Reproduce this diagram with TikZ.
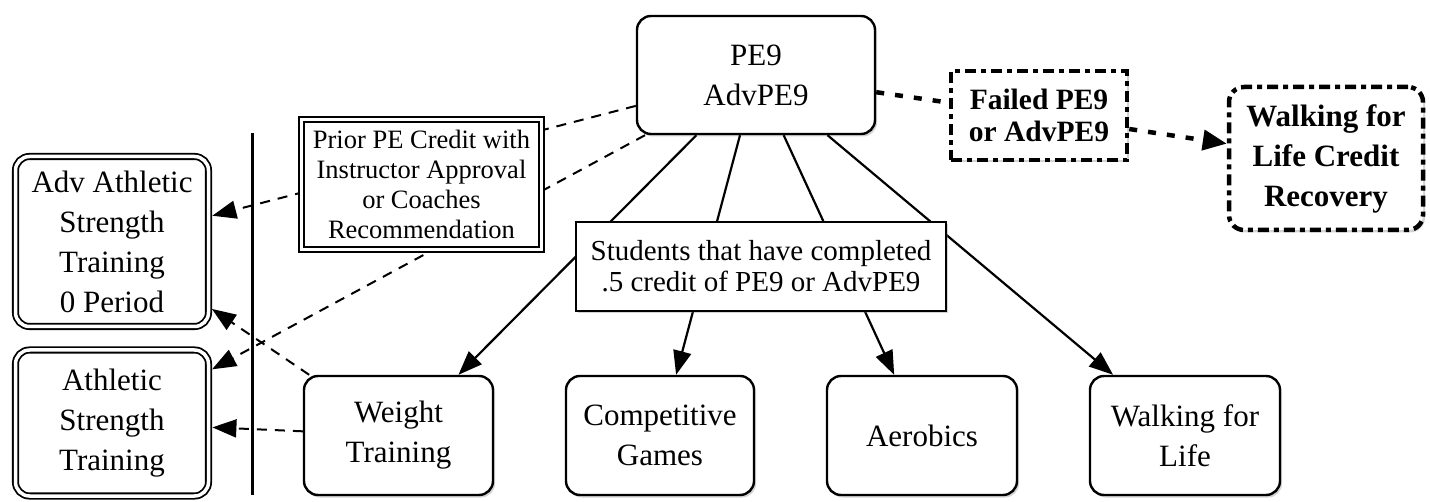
\documentclass[tikz,border=0pt]{standalone}
\usepackage{fontspec}
\setmainfont{Liberation Serif}
\usetikzlibrary{arrows.meta,shadows}
\begin{document}
\begin{tikzpicture}[x=1pt,y=-1pt,
  shd/.style={drop shadow={shadow xshift=2pt,shadow yshift=-2.5pt,opacity=.35}},
  mainfont/.style={font=\fontsize{31}{40}\selectfont},
  rbox/.style={draw,line width=2.4pt,rounded corners=14pt,fill=white,shd,align=center,mainfont,inner sep=0pt},
  dbox/.style={draw,line width=1.8pt,double,double distance=3.5pt,fill=white,shd,align=center,inner sep=0pt},
  sbox/.style={draw,line width=2.4pt,fill=white,shd,align=center,inner sep=0pt},
  thickdash/.style={draw,line width=4.5pt,dash pattern=on 11pt off 5pt on 5pt off 5pt,fill=white,shd,align=center,inner sep=0pt},
  tip/.style={-{Triangle[length=24pt,width=18pt]}},
  edge/.style={line width=2.2pt,tip},
  dedge/.style={line width=2pt,dash pattern=on 10pt off 8pt,tip,shorten >=3pt},
  fedge/.style={line width=4.5pt,dash pattern=on 8pt off 11pt}
]
\useasboundingbox (0,0) rectangle (1430,502);

% main nodes
\node[rbox,minimum width=238pt,minimum height=118pt] (pe9) at (756,75) {PE9\\AdvPE9};
\node[thickdash,minimum width=176pt,minimum height=89pt,font=\bfseries\fontsize{29.5}{32}\selectfont] (failed) at (1039,115.5) {Failed PE9\\or AdvPE9};
\node[thickdash,rounded corners=15pt,minimum width=194pt,minimum height=143pt,font=\bfseries\fontsize{31}{40}\selectfont] (rec) at (1326,158.5) {Walking for\\Life Credit\\Recovery};

\node[dbox,rounded corners=14pt,minimum width=193pt,minimum height=170pt,mainfont] (adv) at (112,241.5) {Adv Athletic\\Strength\\Training\\0 Period};
\node[dbox,rounded corners=14pt,minimum width=193pt,minimum height=146pt,mainfont] (ath) at (112,423) {Athletic\\Strength\\Training};

\node[rbox,minimum width=189pt,minimum height=119pt] (weight) at (398.5,435.5) {Weight\\Training};
\node[rbox,minimum width=188pt,minimum height=119pt] (comp) at (660,435.5) {Competitive\\Games};
\node[rbox,minimum width=190pt,minimum height=119pt] (aero) at (922,435.5) {Aerobics};
\node[rbox,minimum width=190pt,minimum height=119pt] (walk) at (1185,435.5) {Walking for\\Life};

% vertical bar
\coordinate (vtop) at (252,133);
\coordinate (vbot) at (252,495);
\draw[line width=3pt] (vtop) -- (vbot);

% solid arrows from PE9
\draw[edge] (pe9) -- (weight);
\draw[edge] (pe9) -- (comp);
\draw[edge] (pe9) -- (aero);
\draw[edge] (pe9) -- (walk);

% dashed arrows
\draw[dedge] (pe9) -- (adv);
\draw[dedge] (pe9) -- (ath);
\draw[dedge] (weight) -- (adv);
\draw[dedge] (weight) -- (ath);

% failed path
\draw[fedge] (pe9) -- (failed);
\draw[fedge,-{Triangle[length=24pt,width=20pt]}] (failed) -- (rec);

% overlay boxes
\node[dbox,minimum width=240pt,minimum height=130pt,font=\fontsize{26.5}{30}\selectfont] (prior) at (421.5,184.5) {Prior PE Credit with\\Instructor Approval\\or Coaches\\Recommendation};
\node[sbox,minimum width=370pt,minimum height=89pt,font=\fontsize{29}{31}\selectfont] (stud) at (761,266.5) {Students that have completed\\.5 credit of PE9 or AdvPE9};
\end{tikzpicture}
\end{document}
